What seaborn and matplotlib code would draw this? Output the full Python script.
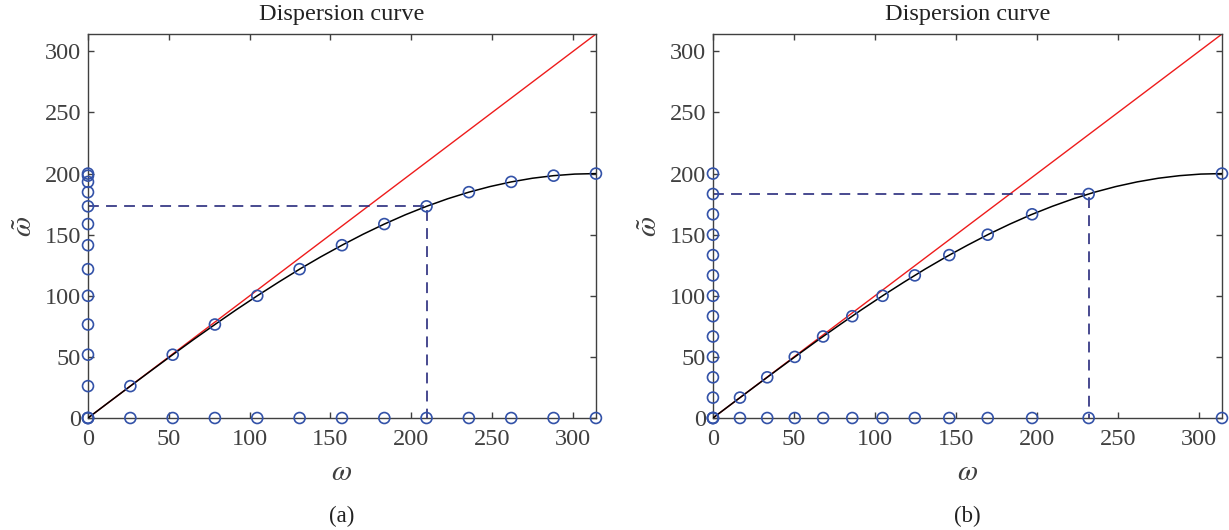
import matplotlib
matplotlib.use('Agg')
import matplotlib.pyplot as plt
import seaborn as sns
import pandas as pd

# sampled points (markers)
omega_a = [0, 26.2, 52.4, 78.5, 104.7, 130.9, 157.1, 183.3, 209.4, 235.6, 261.8, 288.0, 314.2]
wt_a = [0, 26.1, 51.8, 76.5, 100, 121.8, 141.4, 158.7, 173.2, 184.8, 193.2, 198.3, 200]
omega_b = [0, 16.7, 33.5, 50.5, 68.0, 86.0, 104.7, 124.6, 145.9, 169.6, 197.0, 231.9, 314.2]
wt_b = [0, 16.7, 33.3, 50, 66.7, 83.3, 100, 116.7, 133.3, 150, 166.7, 183.3, 200]

# dispersion curve
curve_w = [0, 13.1, 26.2, 39.3, 52.4, 65.4, 78.5, 91.6, 104.7, 117.8, 130.9, 144.0, 157.1,
           170.2, 183.3, 196.3, 209.4, 222.5, 235.6, 248.7, 261.8, 274.9, 288.0, 301.1, 314.2]
curve_wt = [0, 13.1, 26.1, 39.0, 51.8, 64.3, 76.5, 88.5, 100, 111.1, 121.8, 131.9, 141.4,
            150.4, 158.7, 166.3, 173.2, 179.4, 184.8, 189.4, 193.2, 196.2, 198.3, 199.6, 200]

exact = [0, 314.2]
cutoff_a = (209.4, 173.2)
cutoff_b = (231.9, 183.3)

sns.set_style('ticks')
plt.rcParams['font.family'] = ['Liberation Serif', 'DejaVu Serif']
plt.rcParams['mathtext.fontset'] = 'stix'

mk_col = '#3352a8'
dash_col = '#24267a'
grey = '#404040'

fig = plt.figure(figsize=(12.29, 5.30), dpi=100)
ax_a = fig.add_axes([0.0716, 0.2113, 0.4133, 0.7245])
ax_b = fig.add_axes([0.5801, 0.2113, 0.4142, 0.7245])

panels = [(ax_a, omega_a, wt_a, cutoff_a, '(a)'),
          (ax_b, omega_b, wt_b, cutoff_b, '(b)')]

curve = pd.DataFrame({'w': curve_w, 'wt': curve_wt})

for ax, om, wt, cut, lab in panels:
    sns.lineplot(x=exact, y=exact, ax=ax, color='#ee1c1c', lw=1.0, zorder=2)
    sns.lineplot(data=curve, x='w', y='wt', ax=ax, color='black', lw=1.1, zorder=3)
    ax.plot([0, cut[0], cut[0]], [cut[1], cut[1], 0], ls=(0, (6, 4)), color=dash_col,
            lw=1.3, alpha=0.9, zorder=2)
    zeros = [0] * len(om)
    style = dict(marker='o', facecolor='none', edgecolor=mk_col, s=62, linewidth=1.2,
                 zorder=5, clip_on=False)
    sns.scatterplot(x=om, y=wt, ax=ax, **style)
    sns.scatterplot(x=zeros, y=wt, ax=ax, **style)
    sns.scatterplot(x=om, y=zeros, ax=ax, **style)

    ax.set_xlim(0, 314.2)
    ax.set_ylim(0, 314.2)
    ax.set_xticks([0, 50, 100, 150, 200, 250, 300])
    ax.set_yticks([0, 50, 100, 150, 200, 250, 300])
    ax.tick_params(direction='in', top=True, right=True, length=4, width=1,
                   labelsize=17.5, colors=grey, labelcolor=grey)
    ax.tick_params(axis='y', pad=5)
    ax.tick_params(axis='x', pad=8)
    for s in ax.spines.values():
        s.set_visible(True)
        s.set_color(grey)
        s.set_linewidth(1.0)
    ax.set_title('Dispersion curve', fontsize=17.5, color='#222222', pad=10)
    ax.set_xlabel(r'$\omega$', fontsize=21, color=grey, labelpad=7)
    ax.set_ylabel(r'$\tilde{\omega}$', fontsize=21, color=grey, labelpad=5)
    pos = ax.get_position()
    fig.text(pos.x0 + pos.width / 2, 0.025, lab, ha='center', va='center',
             fontsize=16.5, color='#222222')

fig.savefig('out.png', dpi=100)
